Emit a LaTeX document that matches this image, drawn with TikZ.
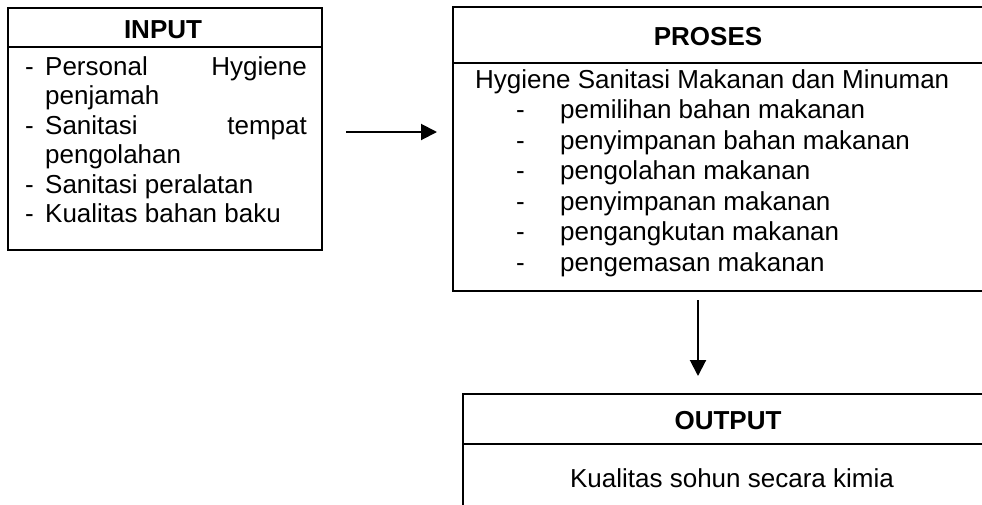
\documentclass[tikz,border=0pt]{standalone}
\usepackage{fontspec}
\setmainfont{Liberation Sans}
\usetikzlibrary{arrows.meta}
\begin{document}
\begin{tikzpicture}[x=1pt,y=-1pt,
  box/.style={draw=black, line width=2pt},
  txt/.style={anchor=base west, inner sep=0pt, font=\fontsize{26}{30}\selectfont},
  txte/.style={anchor=base east, inner sep=0pt, font=\fontsize{26}{30}\selectfont},
  ttl/.style={anchor=base, inner sep=0pt, font=\fontsize{26}{30}\selectfont\bfseries},
  ctr/.style={anchor=base, inner sep=0pt, font=\fontsize{26}{30}\selectfont},
  conn/.style={line width=2pt, -{Triangle[length=16pt,width=16pt]}}]
\useasboundingbox (0,0) rectangle (982,504);
\clip (0,0) rectangle (982,504);
% ---------- INPUT ----------
\draw[box] (8,8) rectangle (322,250);
\draw[box] (8,47) -- (322,47);
\node[ttl] (inT) at (163,38) {INPUT};
\node[txt] (i1d) at (25,75) {-};
\node[txt] (i1a) at (45,75) {Personal};
\node[txte] (i1b) at (307,75) {Hygiene};
\node[txt] (i1c) at (45,104.5) {penjamah};
\node[txt] (i2d) at (25,134) {-};
\node[txt] (i2a) at (45,134) {Sanitasi};
\node[txte] (i2b) at (307,134) {tempat};
\node[txt] (i2c) at (45,163.5) {pengolahan};
\node[txt] (i3d) at (25,193) {-};
\node[txt] (i3a) at (45,193) {Sanitasi peralatan};
\node[txt] (i4d) at (25,222.5) {-};
\node[txt] (i4a) at (45,222.5) {Kualitas bahan baku};
% ---------- PROSES ----------
\draw[box] (453,7) rectangle (1000,291);
\draw[box] (453,63) -- (1000,63);
\node[ttl] (prT) at (708,45) {PROSES};
\node[txt] (p0) at (475,88) {Hygiene Sanitasi Makanan dan Minuman};
\foreach \yy/\tt [count=\k] in {118.5/pemilihan bahan makanan,149/penyimpanan bahan makanan,179.5/pengolahan makanan,210/penyimpanan makanan,240.5/pengangkutan makanan,271/pengemasan makanan}{
  \node[txt] (pd\k) at (516,\yy) {-};
  \node[txt] (p\k) at (560,\yy) {\tt};
}
% ---------- OUTPUT ----------
\draw[box] (463,394) rectangle (1000,530);
\draw[box] (463,444) -- (1000,444);
\node[ttl] (ouT) at (728,429) {OUTPUT};
\node[ctr] (o1) at (732,487) {Kualitas sohun secara kimia};
% ---------- connectors ----------
\coordinate (a1s) at (346,132);
\coordinate (a1e) at (437,132);
\coordinate (a2s) at (698,300);
\coordinate (a2e) at (698,376);
\draw[conn] (a1s) -- (a1e);
\draw[conn] (a2s) -- (a2e);
\end{tikzpicture}
\end{document}
